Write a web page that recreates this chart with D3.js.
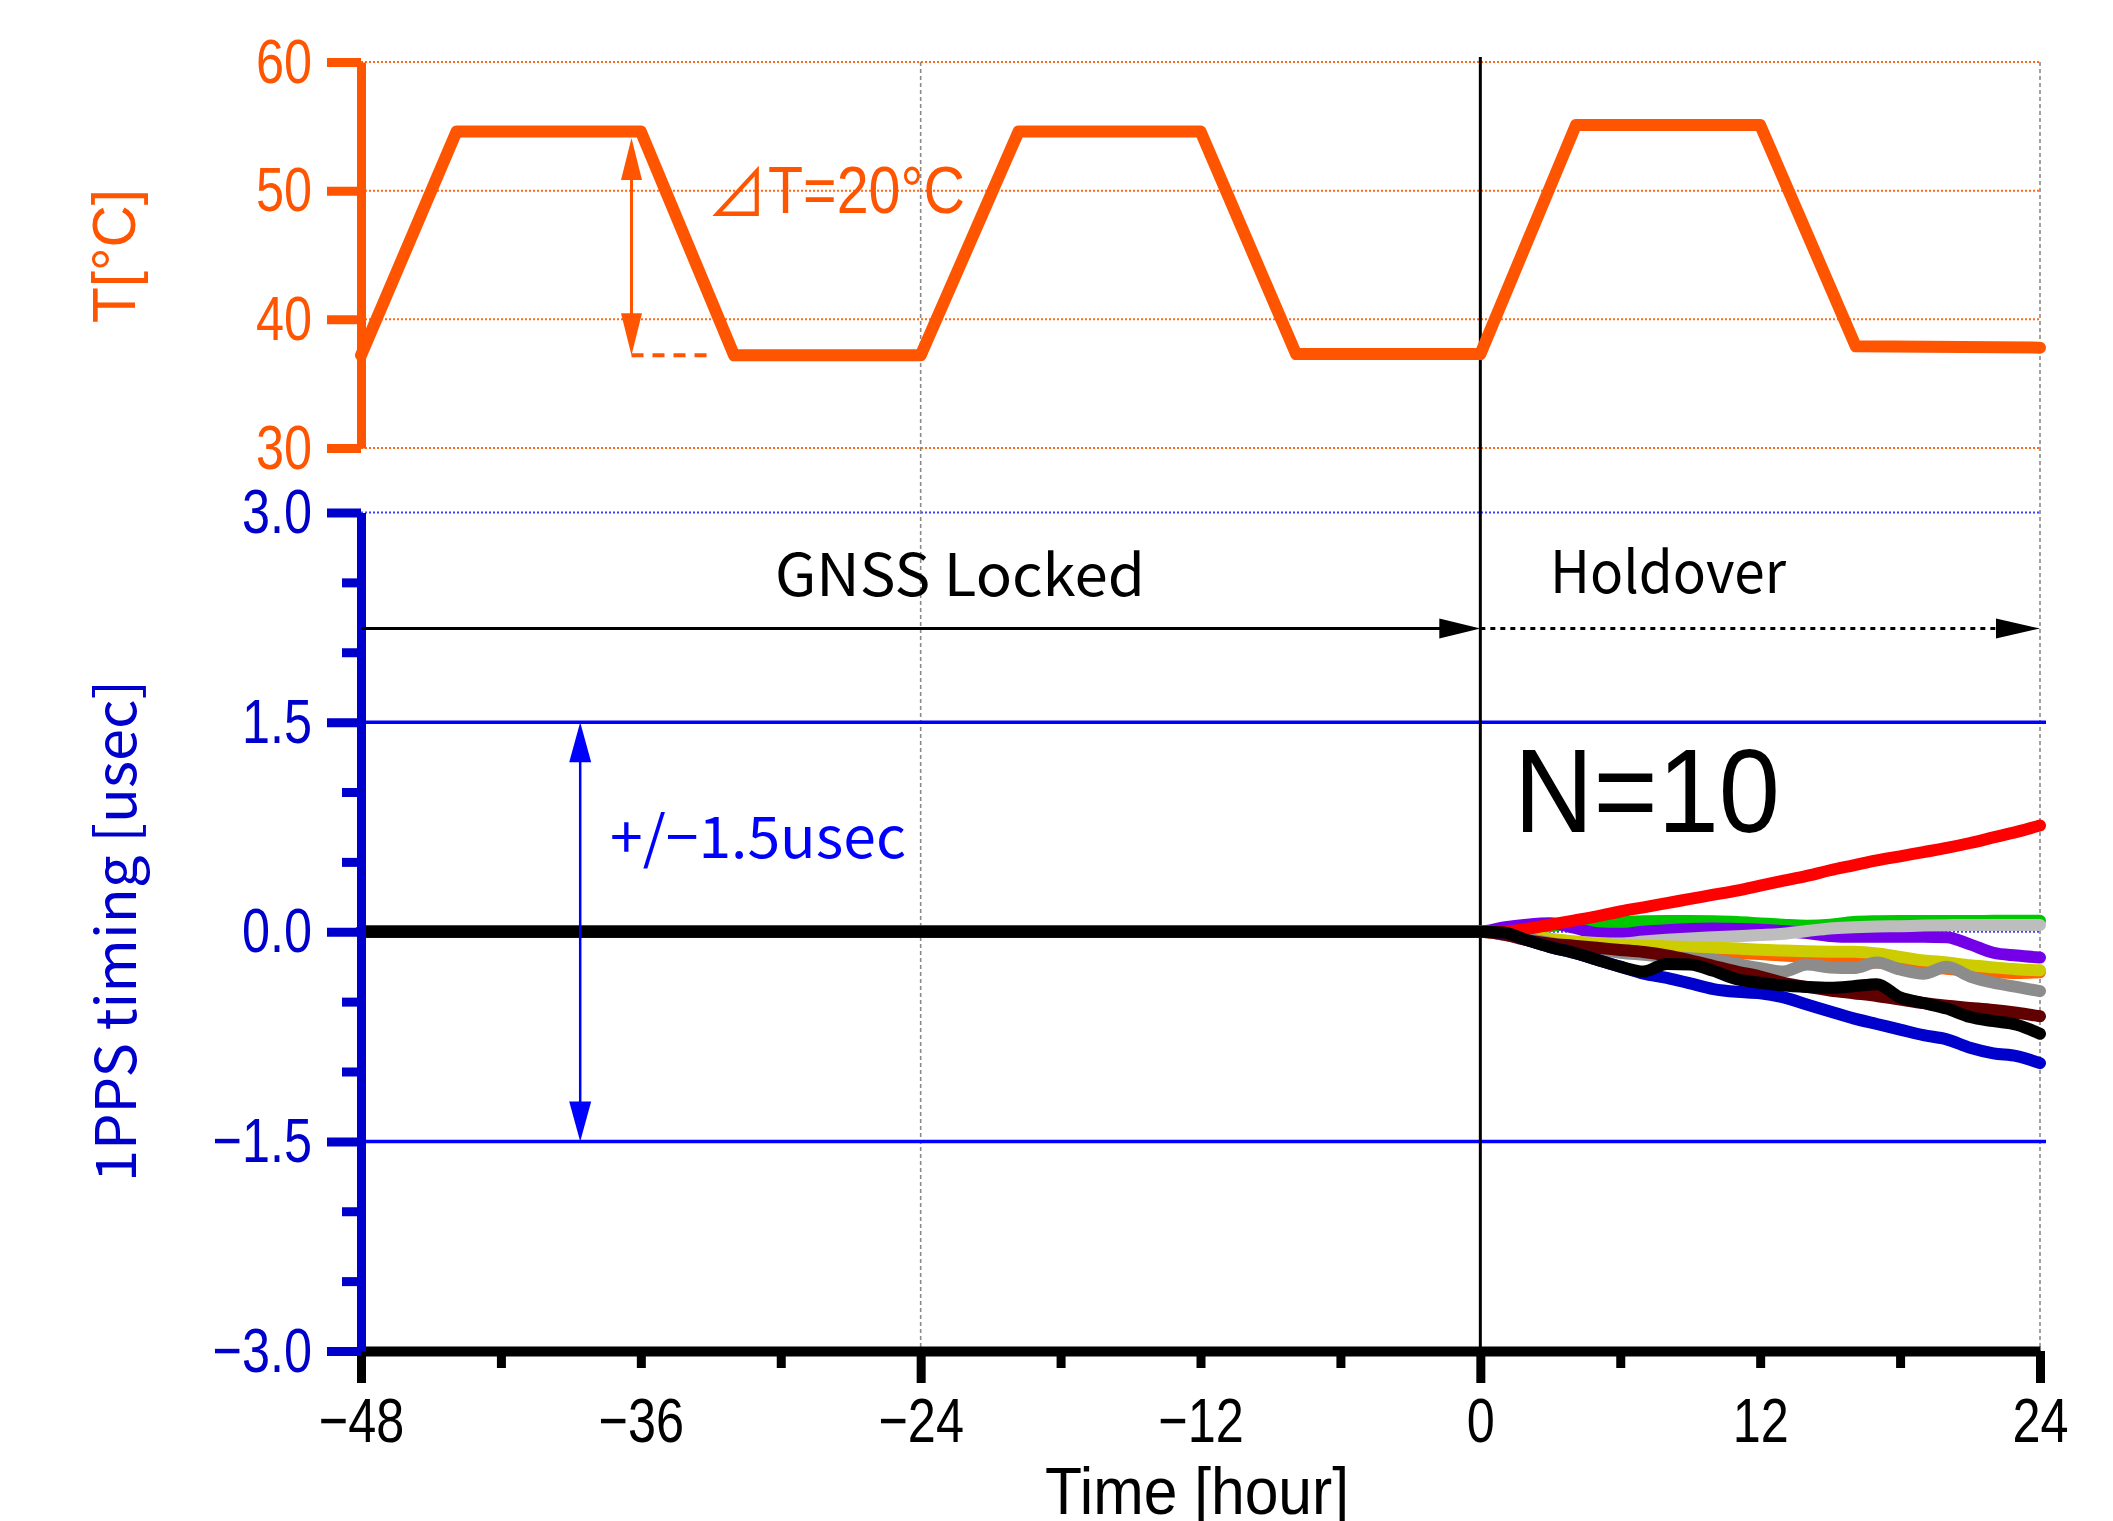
<!DOCTYPE html>
<html><head><meta charset="utf-8">
<script src="https://cdn.jsdelivr.net/npm/d3@7"></script>
<style>body{margin:0;background:#fff}svg{display:block}</style>
</head><body>
<svg id="c" width="2113" height="1521"></svg>
<script>
// ---------------- data ----------------
const tempHours  = [-48, -43.9, -36, -32, -24, -19.8, -12, -7.9, 0, 4.1, 12, 16.1, 24];
const tempValues = [37.2, 54.6, 54.6, 37.2, 37.2, 54.6, 54.6, 37.3, 37.3, 55.1, 55.1, 37.9, 37.8];

const holdoverHours = [-48, 0, 1, 2, 3, 4, 5, 6, 7, 8, 9, 10, 11, 12, 13, 14, 15, 16, 17, 18, 19, 20, 21, 22, 23, 24];
const greenValues  = [0, 0, 0.01, 0.02, 0.04, 0.06, 0.065, 0.07, 0.075, 0.077, 0.077, 0.075, 0.07, 0.06, 0.05, 0.043, 0.05, 0.07, 0.075, 0.077, 0.077, 0.077, 0.077, 0.078, 0.079, 0.079];
const purpleValues = [0, 0, 0.03, 0.05, 0.06, 0.03, -0.01, -0.015, 0, 0.01, 0.02, 0.024, 0.02, 0.015, 0.005, -0.01, -0.03, -0.036, -0.036, -0.036, -0.036, -0.04, -0.09, -0.15, -0.17, -0.185];
const lightGreyValues = [0, 0, -0.01, -0.035, -0.055, -0.07, -0.08, -0.084, -0.07, -0.058, -0.048, -0.04, -0.032, -0.024, -0.014, 0.005, 0.024, 0.032, 0.037, 0.04, 0.044, 0.047, 0.048, 0.048, 0.048, 0.048];
const orangeValues = [0, 0, -0.02, -0.05, -0.08, -0.10, -0.11, -0.115, -0.12, -0.125, -0.13, -0.14, -0.15, -0.16, -0.17, -0.18, -0.195, -0.21, -0.22, -0.235, -0.25, -0.265, -0.28, -0.29, -0.295, -0.29];
const yellowValues = [0, 0, -0.01, -0.03, -0.05, -0.07, -0.085, -0.095, -0.10, -0.105, -0.11, -0.115, -0.12, -0.128, -0.135, -0.14, -0.143, -0.144, -0.155, -0.18, -0.205, -0.22, -0.24, -0.255, -0.268, -0.276];
const greyValues   = [0, 0, -0.02, -0.05, -0.08, -0.11, -0.13, -0.15, -0.165, -0.18, -0.19, -0.20, -0.23, -0.26, -0.285, -0.235, -0.255, -0.26, -0.22, -0.27, -0.30, -0.25, -0.32, -0.365, -0.395, -0.425];
const maroonValues = [0, 0, -0.02, -0.06, -0.085, -0.10, -0.115, -0.13, -0.145, -0.17, -0.205, -0.245, -0.285, -0.32, -0.365, -0.395, -0.42, -0.44, -0.46, -0.485, -0.51, -0.53, -0.545, -0.56, -0.58, -0.605];
const blueValues   = [0, 0, -0.005, -0.06, -0.11, -0.15, -0.20, -0.25, -0.30, -0.33, -0.37, -0.41, -0.43, -0.44, -0.47, -0.52, -0.57, -0.62, -0.66, -0.70, -0.74, -0.77, -0.83, -0.87, -0.89, -0.94];
const redValues    = [0, 0, 0, 0.02, 0.05, 0.08, 0.11, 0.145, 0.175, 0.205, 0.235, 0.265, 0.295, 0.33, 0.365, 0.40, 0.44, 0.475, 0.51, 0.54, 0.57, 0.60, 0.635, 0.675, 0.715, 0.76];
const blackValues  = [0, 0, -0.005, -0.06, -0.11, -0.15, -0.20, -0.25, -0.285, -0.23, -0.235, -0.28, -0.34, -0.365, -0.385, -0.395, -0.40, -0.39, -0.375, -0.47, -0.51, -0.55, -0.61, -0.64, -0.665, -0.73];

const seriesList   = [greenValues, purpleValues, lightGreyValues, orangeValues, yellowValues, greyValues, maroonValues, blueValues, redValues, blackValues];
const seriesColors = ["#00c800", "#7400e8", "#bdbdbd", "#ff6400", "#cccc00", "#8c8c8c", "#600000", "#0000cc", "#ff0000", "#000000"];

const xLabelTicks = [-48, -36, -24, -12, 0, 12, 24];
const xMajorTicks = [-48, -24, 0, 24];
const xMinorTicks = [-42, -36, -30, -18, -12, -6, 6, 12, 18];
const tTicks = [30, 40, 50, 60];
const pTicks = [-3, -1.5, 0, 1.5, 3];
const pMinorTicks = [-2.5, -2, -1, -0.5, 0.5, 1, 2, 2.5];
const vGridHours = [-24, 24];

// ---------------- setup ----------------
const ORANGE = "#ff5500", BLUE = "#0000cc", LBLUE = "#0000ff";
const SANS = '"Liberation Sans",Arial,sans-serif';
const GOTHIC = '"Noto Sans CJK JP","Noto Sans",sans-serif';
const svg = d3.select("#c");
const x  = d3.scaleLinear().domain([-48, 24]).range([361, 2040]);
const yT = d3.scaleLinear().domain([30, 60]).range([448, 62]);
const yP = d3.scaleLinear().domain([-3, 3]).range([1351, 512.5]);

function narrow(sel, factor) {
  sel.each(function () {
    const len = this.getComputedTextLength();
    d3.select(this).attr("textLength", len * factor).attr("lengthAdjust", "spacingAndGlyphs");
  });
}

// ---------------- grids ----------------
const grid = svg.append("g");
grid.selectAll(".tg").data(tTicks).enter().append("line")
  .attr("x1", x(-48)).attr("x2", x(24)).attr("y1", d => yT(d)).attr("y2", d => yT(d))
  .attr("stroke", "#ff6a1a").attr("stroke-width", 2).attr("stroke-dasharray", "2,2");
grid.selectAll(".pg").data([3, 0]).enter().append("line")
  .attr("x1", x(-48)).attr("x2", x(24)).attr("y1", d => yP(d)).attr("y2", d => yP(d))
  .attr("stroke", "#4040ff").attr("stroke-width", 2).attr("stroke-dasharray", "2,2");
grid.selectAll(".vg").data(vGridHours).enter().append("line")
  .attr("x1", d => x(d)).attr("x2", d => x(d)).attr("y1", yT(60)).attr("y2", yP(-3))
  .attr("stroke", "#8a8a8a").attr("stroke-width", 1.6).attr("stroke-dasharray", "4,3");
grid.selectAll(".lim").data([1.5, -1.5]).enter().append("line")
  .attr("x1", x(-48)).attr("x2", x(24) + 6).attr("y1", d => yP(d)).attr("y2", d => yP(d))
  .attr("stroke", LBLUE).attr("stroke-width", 3.5);
grid.append("line").attr("x1", x(0)).attr("x2", x(0)).attr("y1", 57).attr("y2", yP(-3))
  .attr("stroke", "#000").attr("stroke-width", 3);

// ---------------- temperature ----------------
const tLine = d3.line().x((d, i) => x(tempHours[i])).y(d => yT(d));
svg.append("path").datum(tempValues).attr("d", tLine)
  .attr("fill", "none").attr("stroke", ORANGE).attr("stroke-width", 12)
  .attr("stroke-linejoin", "round").attr("stroke-linecap", "round");

// ---------------- timing series ----------------
const pLine = d3.line().x((d, i) => x(holdoverHours[i])).y(d => yP(d)).curve(d3.curveMonotoneX);
svg.append("g").selectAll("path").data(seriesList).enter().append("path")
  .attr("d", pLine).attr("fill", "none")
  .attr("stroke", (d, i) => seriesColors[i]).attr("stroke-width", 12)
  .attr("stroke-linejoin", "round").attr("stroke-linecap", "round");

// ---------------- axes ----------------
function styleAxis(sel, color, w) {
  sel.selectAll("path.domain").attr("stroke", color).attr("stroke-width", w);
  sel.selectAll(".tick line").attr("stroke", color).attr("stroke-width", w);
}
const minusFmt = d => (d < 0 ? "\u2212" + Math.abs(d) : String(d));
const xAx = svg.append("g").attr("transform", `translate(0,${yP(-3)})`);
xAx.append("g").call(d3.axisBottom(x).tickValues(xMinorTicks).tickSize(17).tickSizeOuter(0).tickFormat(""))
  .call(s => { styleAxis(s, "#000", 9); s.select("path.domain").attr("stroke-width", 10); });
xAx.append("g").call(d3.axisBottom(x).tickValues(xMajorTicks).tickSize(32).tickSizeOuter(0).tickFormat(""))
  .call(s => { styleAxis(s, "#000", 9); s.select("path.domain").remove(); });
xAx.append("g").call(d3.axisBottom(x).tickValues(xLabelTicks).tickSize(0).tickPadding(46).tickFormat(minusFmt))
  .call(s => { s.select("path.domain").remove();
    s.selectAll("text").attr("font-family", SANS).attr("font-size", 63).attr("fill", "#000").call(narrow, 0.8); });

const tAx = svg.append("g").attr("transform", `translate(${x(-48)},0)`);
tAx.append("g").call(d3.axisLeft(yT).tickValues(tTicks).tickSize(34).tickSizeOuter(0).tickFormat(""))
  .call(s => styleAxis(s, ORANGE, 9));
tAx.append("g").call(d3.axisLeft(yT).tickValues(tTicks).tickSize(0).tickPadding(49))
  .call(s => { s.select("path.domain").remove();
    s.selectAll("text").attr("font-family", SANS).attr("font-size", 63).attr("fill", ORANGE).call(narrow, 0.8); });

const pAx = svg.append("g").attr("transform", `translate(${x(-48)},0)`);
pAx.append("g").call(d3.axisLeft(yP).tickValues(pMinorTicks).tickSize(19).tickSizeOuter(0).tickFormat(""))
  .call(s => styleAxis(s, BLUE, 9));
pAx.append("g").call(d3.axisLeft(yP).tickValues(pTicks).tickSize(34).tickSizeOuter(0).tickFormat(""))
  .call(s => { styleAxis(s, BLUE, 9); s.select("path.domain").remove(); });
pAx.append("g").call(d3.axisLeft(yP).tickValues(pTicks).tickSize(0).tickPadding(49)
    .tickFormat(d => (d < 0 ? "\u2212" : "") + d3.format(".1f")(Math.abs(d))))
  .call(s => { s.select("path.domain").remove();
    s.selectAll("text").attr("font-family", SANS).attr("font-size", 63).attr("fill", BLUE).call(narrow, 0.8); });

// ---------------- axis titles ----------------
svg.append("text").attr("transform", "translate(135,256) rotate(-90)")
  .attr("text-anchor", "middle").attr("font-family", SANS)
  .attr("font-size", 62).attr("fill", ORANGE)
  .attr("textLength", 134).attr("lengthAdjust", "spacingAndGlyphs").text("T[°C]");
svg.append("text").attr("transform", "translate(136,931) rotate(-90)")
  .attr("text-anchor", "middle").attr("font-family", GOTHIC)
  .attr("font-size", 56).attr("fill", BLUE)
  .attr("textLength", 502).attr("lengthAdjust", "spacingAndGlyphs")
  .text("1PPS timing [usec]");
svg.append("text").attr("x", 1197).attr("y", 1514)
  .attr("text-anchor", "middle").attr("font-family", SANS)
  .attr("font-size", 66).attr("fill", "#000")
  .attr("textLength", 304).attr("lengthAdjust", "spacingAndGlyphs")
  .text("Time [hour]");

// ---------------- annotations ----------------
function arrowHead(px, py, dx, dy, len, half, color) {
  const bx = px - dx * len, by = py - dy * len;
  const nx = -dy * half, ny = dx * half;
  svg.append("path").attr("d", `M${px},${py}L${bx + nx},${by + ny}L${bx - nx},${by - ny}Z`).attr("fill", color);
}
const arrowY = yP(2.17);
svg.append("line").attr("x1", x(-48)).attr("x2", x(0) - 38).attr("y1", arrowY).attr("y2", arrowY)
  .attr("stroke", "#000").attr("stroke-width", 3);
arrowHead(x(0), arrowY, 1, 0, 41, 10, "#000");
svg.append("line").attr("x1", x(0)).attr("x2", x(24) - 40).attr("y1", arrowY).attr("y2", arrowY)
  .attr("stroke", "#000").attr("stroke-width", 3).attr("stroke-dasharray", "5,5");
arrowHead(x(24), arrowY, 1, 0, 44, 10, "#000");

svg.append("text").attr("x", 960).attr("y", 596).attr("text-anchor", "middle")
  .attr("font-family", GOTHIC).attr("font-size", 58).attr("fill", "#000")
  .attr("textLength", 370).attr("lengthAdjust", "spacingAndGlyphs").text("GNSS Locked");
svg.append("text").attr("x", 1668).attr("y", 593).attr("text-anchor", "middle")
  .attr("font-family", GOTHIC).attr("font-size", 58).attr("fill", "#000")
  .attr("textLength", 236).attr("lengthAdjust", "spacingAndGlyphs").text("Holdover");

const bx = x(-38.6);
svg.append("line").attr("x1", bx).attr("x2", bx).attr("y1", yP(1.5) + 30).attr("y2", yP(-1.5) - 30)
  .attr("stroke", LBLUE).attr("stroke-width", 2.5);
arrowHead(bx, yP(1.5), 0, -1, 40, 11, LBLUE);
arrowHead(bx, yP(-1.5), 0, 1, 40, 11, LBLUE);
svg.append("text").attr("x", 610).attr("y", 858)
  .attr("font-family", GOTHIC).attr("font-size", 58).attr("fill", LBLUE)
  .attr("textLength", 296).attr("lengthAdjust", "spacingAndGlyphs").text("+/\u22121.5usec");

svg.append("text").attr("x", 1514).attr("y", 832)
  .attr("font-family", SANS).attr("font-size", 119).attr("fill", "#000")
  .attr("textLength", 266).attr("lengthAdjust", "spacingAndGlyphs").text("N=10");

const ox = x(-36.4);
svg.append("line").attr("x1", ox).attr("x2", ox).attr("y1", yT(54.1) + 30).attr("y2", yT(37.2) - 30)
  .attr("stroke", ORANGE).attr("stroke-width", 3);
arrowHead(ox, yT(54.1), 0, -1, 42, 10.5, ORANGE);
arrowHead(ox, yT(37.2), 0, 1, 42, 10.5, ORANGE);
svg.append("line").attr("x1", ox).attr("x2", x(-32.8)).attr("y1", yT(37.2)).attr("y2", yT(37.2))
  .attr("stroke", ORANGE).attr("stroke-width", 4).attr("stroke-dasharray", "12,9");
svg.append("text").attr("x", 707).attr("y", 216)
  .attr("font-family", GOTHIC).attr("font-size", 64).attr("fill", ORANGE)
  .attr("textLength", 60).attr("lengthAdjust", "spacingAndGlyphs").text("\u22BF");
svg.append("text").attr("x", 768).attr("y", 213)
  .attr("font-family", SANS).attr("font-size", 66).attr("fill", ORANGE)
  .attr("textLength", 197).attr("lengthAdjust", "spacingAndGlyphs").text("T=20°C");
</script>
</body></html>
